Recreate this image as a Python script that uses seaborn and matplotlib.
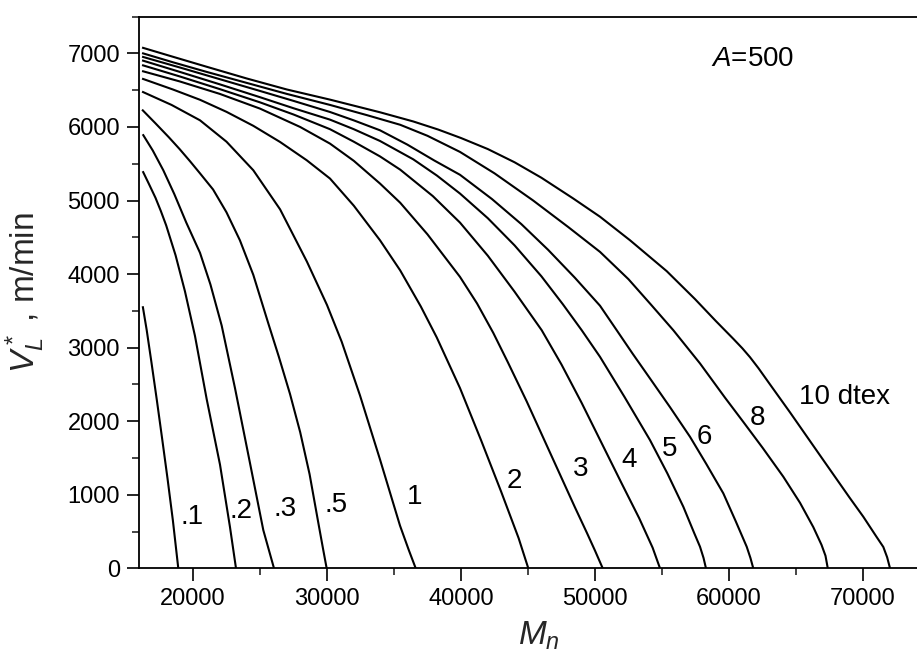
import numpy as np
import pandas as pd
import matplotlib
matplotlib.use("Agg")
import matplotlib.pyplot as plt
from matplotlib.ticker import MultipleLocator
import seaborn as sns

# ---- data (M_n, V_L* in m/min) ----
labels = [".1", ".2", ".3", ".5", "1", "2", "3", "4", "5", "6", "8", "10 dtex"]

m_01 = [16250, 16545, 16900, 17300, 17700, 18100, 18500, 18903]
v_01 = [3563, 3240, 2800, 2290, 1760, 1220, 650, 0]

m_02 = [16250, 16700, 17200, 17600, 18000, 18700, 19400, 20149, 21022, 22015, 22761, 23209]
v_02 = [5399, 5230, 5038, 4858, 4662, 4256, 3766, 3159, 2300, 1410, 560, 0]

m_03 = [16250, 17000, 17784, 18600, 19500, 20522, 21300, 22141, 23134, 24254, 25246, 26045]
v_03 = [5901, 5680, 5412, 5090, 4700, 4290, 3860, 3300, 2450, 1430, 520, 0]

m_05 = [16200, 17200, 18200, 19000, 19776, 20522, 21500, 22500, 23500, 24500, 25620, 26400,
        27240, 28000, 28700, 29351, 29700, 29975]
v_05 = [6236, 6050, 5860, 5700, 5535, 5370, 5150, 4840, 4460, 3990, 3330, 2880,
        2370, 1850, 1280, 620, 270, 0]

m_1 = [16200, 18400, 20522, 22500, 24500, 26500, 28500, 30000, 31097, 32463, 33955, 35448, 36100, 36620]
v_1 = [6481, 6300, 6091, 5800, 5412, 4880, 4170, 3580, 3080, 2350, 1480, 580, 250, 0]

m_2 = [16200, 18500, 20522, 22500, 24500, 26500, 28485, 30224, 32000, 33955, 35463, 37000,
       38187, 39925, 41500, 43000, 44300, 45022]
v_2 = [6658, 6510, 6370, 6206, 6016, 5796, 5548, 5299, 4930, 4460, 4050, 3560,
       3140, 2450, 1740, 1040, 410, 0]

m_3 = [16200, 19000, 22000, 25000, 28000, 30224, 32000, 33955, 35463, 37500, 39925, 41200,
       42410, 43500, 44900, 46200, 47400, 48500, 49400, 50000, 50575]
v_3 = [6761, 6620, 6450, 6250, 6000, 5774, 5540, 5231, 4970, 4540, 3962, 3600,
       3200, 2800, 2270, 1750, 1270, 830, 480, 240, 0]

m_4 = [16200, 19000, 22000, 25000, 27500, 30224, 32000, 33955, 35463, 37900, 39925, 42000,
       44000, 46022, 47500, 49000, 50500, 52000, 53300, 54300, 54850]
v_4 = [6842, 6688, 6515, 6335, 6170, 5970, 5800, 5600, 5420, 5060, 4700, 4250,
       3760, 3237, 2770, 2250, 1700, 1150, 680, 280, 0]

m_5 = [16200, 19000, 22000, 25000, 27500, 30224, 32000, 33955, 36440, 38200, 39925, 42000,
       44000, 46000, 47600, 49007, 50373, 52200, 54104, 55400, 56590, 57400, 57836, 58100, 58280]
v_5 = [6906, 6750, 6580, 6405, 6255, 6100, 5970, 5810, 5560, 5340, 5095, 4760,
       4390, 3970, 3590, 3237, 2875, 2330, 1743, 1290, 837, 480, 293, 140, 0]

m_6 = [16200, 19000, 22000, 25000, 27500, 30224, 32000, 33955, 36000, 38000, 39925, 42313,
       44500, 46500, 48500, 50373, 51619, 52800, 54104, 55600, 57089, 58300, 59575, 60500,
       61321, 61600, 61810]
v_6 = [6956, 6810, 6650, 6490, 6355, 6204, 6090, 5955, 5760, 5545, 5350, 5020,
       4680, 4330, 3950, 3570, 3237, 2920, 2581, 2190, 1788, 1420, 1019, 640,
       293, 140, 0]

m_8 = [16200, 18500, 21000, 24000, 27000, 30224, 33000, 35463, 37500, 39925, 42500, 45373,
       48000, 50373, 52500, 54200, 55843, 57836, 59700, 61067, 62500, 64052, 65300, 66290,
       66900, 67200, 67370]
v_8 = [7005, 6880, 6750, 6600, 6450, 6300, 6160, 6030, 5880, 5661, 5370, 5002,
       4640, 4302, 3930, 3580, 3237, 2785, 2320, 1990, 1640, 1245, 890, 560,
       320, 170, 0]

m_10 = [16200, 18500, 21000, 24000, 27000, 30224, 33955, 36440, 38300, 40000, 42000, 44000,
        46000, 48358, 50373, 52612, 55351, 57463, 59000, 60321, 61000, 61567, 62200, 63000,
        64552, 67037, 69000, 70022, 71000, 71515, 71800, 72015]
v_10 = [7080, 6955, 6820, 6660, 6510, 6372, 6200, 6075, 5965, 5850, 5700, 5520,
        5310, 5030, 4780, 4460, 4040, 3660, 3365, 3120, 2990, 2870, 2720, 2515,
        2120, 1471, 960, 701, 430, 290, 150, 0]

series_m = [m_01, m_02, m_03, m_05, m_1, m_2, m_3, m_4, m_5, m_6, m_8, m_10]
series_v = [v_01, v_02, v_03, v_05, v_1, v_2, v_3, v_4, v_5, v_6, v_8, v_10]

# label anchor positions (data coords)
label_x = [19903, 23619, 26866, 30709, 36567, 43970, 48940, 52552, 55597, 58149, 62127, 68597]
label_y = [701, 778, 806, 860, 969, 1189, 1346, 1471, 1618, 1788, 2038, 2332]

x_ticks = [20000, 30000, 40000, 50000, 60000, 70000]
y_ticks = [0, 1000, 2000, 3000, 4000, 5000, 6000, 7000]

# ---- build long-form table ----
frames = []
for lab, m, v in zip(labels, series_m, series_v):
    frames.append(pd.DataFrame({"M": m, "V": v, "curve": lab}))
df = pd.concat(frames, ignore_index=True)

sns.set_theme(style="ticks")
plt.rcParams["font.family"] = ["Liberation Sans", "DejaVu Sans"]
plt.rcParams["mathtext.fontset"] = "custom"
plt.rcParams["mathtext.rm"] = "Liberation Sans"
plt.rcParams["mathtext.it"] = "Liberation Sans:italic"
plt.rcParams["mathtext.bf"] = "Liberation Sans:bold"

fig = plt.figure(figsize=(9.17, 6.56), dpi=100)
ax = fig.add_axes([0.1520, 0.1337, 0.8622, 0.8409])

sns.lineplot(data=df, x="M", y="V", hue="curve", units="curve",
             estimator=None, sort=False, palette=["black"] * len(labels),
             legend=False, linewidth=1.5, ax=ax)
for ln in ax.get_lines():
    ln.set_solid_joinstyle("round")
    ln.set_solid_capstyle("butt")

for lab, lx, ly in zip(labels, label_x, label_y):
    ax.text(lx, ly, lab, fontsize=20, ha="center", va="center", color="black")

ax.text(61754, 6929, r"$A$=500", fontsize=20, ha="center", va="center", color="black")

ax.set_xlim(16000, 75000)
ax.set_ylim(0, 7500)
ax.set_xticks(x_ticks)
ax.set_yticks(y_ticks)
ax.xaxis.set_minor_locator(MultipleLocator(5000))
ax.yaxis.set_minor_locator(MultipleLocator(500))

ax.tick_params(axis="both", which="major", direction="out", length=9, width=1.2,
               labelsize=17, pad=5, colors="black")
ax.tick_params(axis="both", which="minor", direction="out", length=5, width=1.2)

for side in ["left", "bottom", "top"]:
    ax.spines[side].set_visible(True)
    ax.spines[side].set_linewidth(1.3)
    ax.spines[side].set_color("black")
ax.spines["right"].set_visible(False)

ax.set_xlabel(r"$M_n$", fontsize=24)
ax.set_ylabel(r"$V_L^*$ , m/min", fontsize=24)
ax.xaxis.set_label_coords(0.505, -0.093)
ax.yaxis.set_label_coords(-0.117, 0.5)

fig.savefig("out.png", dpi=100)
